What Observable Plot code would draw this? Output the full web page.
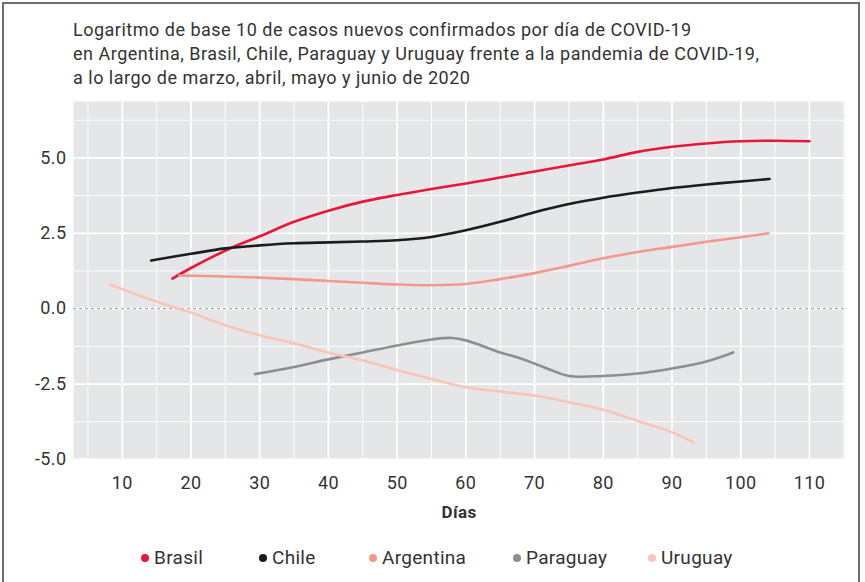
<!DOCTYPE html>
<html><head><meta charset="utf-8">
<script src="https://cdn.jsdelivr.net/npm/d3@7"></script>
<script src="https://cdn.jsdelivr.net/npm/@observablehq/plot@0.6"></script>
<style>
body{margin:0;background:#fff;font-family:Roboto,sans-serif;color:#333;width:865px;height:582px;overflow:hidden;position:relative}
#frame{position:absolute;left:2px;top:2px;width:858px;height:640px;border:2px solid #6e6e6e;box-sizing:border-box}
#title{position:absolute;left:73px;top:18px;font-size:18px;letter-spacing:0.5px;line-height:24px;color:#333}
#chart{position:absolute;left:0;top:95px}
#legend{position:absolute;left:0;top:546px;width:865px;height:26px;font-size:19px;color:#333;letter-spacing:0.3px}
#legend .it{position:absolute;display:flex;align-items:center}
#legend .dot{width:8px;height:8px;border-radius:50%;margin-right:5px}
</style></head>
<body>
<div id="frame"></div>
<div id="title">Logaritmo de base 10 de casos nuevos confirmados por día de COVID-19<br>en Argentina, Brasil, Chile, Paraguay y Uruguay frente a la pandemia de COVID-19,<br>a lo largo de marzo, abril, mayo y junio de 2020</div>
<div id="chart"></div>
<div id="legend"></div>
<script>
const countries = ["Brasil", "Chile", "Argentina", "Paraguay", "Uruguay"];
const colors = ["#e8173a", "#1c1c1c", "#f4978c", "#8e8e8e", "#f9c5b6"];

const brasil = [[17.3,1.0],[20,1.35],[26,2.03],[30,2.4],[35,2.88],[40,3.25],[45,3.55],[50,3.77],[55,3.97],[60,4.15],[65,4.35],[70,4.55],[75,4.75],[80,4.95],[85,5.2],[90,5.37],[95,5.48],[100,5.55],[105,5.57],[110,5.55]];
const chile = [[14.2,1.6],[20,1.82],[25,2.0],[30,2.1],[35,2.17],[40,2.2],[45,2.23],[50,2.27],[55,2.38],[60,2.6],[65,2.88],[70,3.2],[75,3.47],[80,3.68],[85,3.85],[90,4.0],[95,4.12],[100,4.22],[104.2,4.3]];
const argentina = [[18.3,1.1],[25,1.07],[30,1.03],[35,0.98],[40,0.92],[45,0.86],[50,0.8],[55,0.78],[60,0.82],[65,0.98],[70,1.18],[75,1.42],[80,1.67],[85,1.88],[90,2.05],[95,2.22],[100,2.37],[104,2.5]];
const paraguay = [[29.3,-2.17],[35,-1.93],[40,-1.68],[45,-1.45],[50,-1.22],[55,-1.02],[58,-0.97],[60,-1.05],[65,-1.45],[68,-1.65],[72,-2.0],[75,-2.23],[80,-2.23],[85,-2.15],[90,-1.98],[95,-1.75],[98.9,-1.45]];
const uruguay = [[8.2,0.8],[10,0.65],[15,0.23],[20,-0.13],[25,-0.55],[30,-0.88],[35,-1.15],[40,-1.45],[45,-1.72],[50,-2.03],[55,-2.33],[60,-2.6],[65,-2.75],[70,-2.88],[75,-3.1],[80,-3.35],[85,-3.72],[90,-4.1],[93.1,-4.43]];

const xTicks = [10,20,30,40,50,60,70,80,90,100,110];
const xMinor = [5,15,25,35,45,55,65,75,85,95,105,115];
const yTicks = [-5,-2.5,0,2.5,5];
const yMinor = [-3.75,-1.25,1.25,3.75,6.25];
const xLabel = "Días";
const legendLeft = [141, 259, 369, 513, 648];

const series = [brasil, chile, argentina, paraguay, uruguay];
const data = series.flatMap((s, i) => s.map(([d, v]) => ({country: countries[i], day: d, value: v})));

const chart = Plot.plot({
  width: 865, height: 434,
  marginLeft: 73, marginRight: 21, marginTop: 6, marginBottom: 70,
  style: {fontFamily: "Roboto, sans-serif", fontSize: "18px", color: "#333", background: "transparent", letterSpacing: "0.4px"},
  x: {domain: [2.9, 115.1]},
  y: {domain: [-5, 6.87]},
  color: {domain: countries, range: colors},
  marks: [
    Plot.frame({fill: "#e5e6e8", stroke: null}),
    Plot.ruleX(xMinor, {stroke: "#fff", strokeWidth: 0.9}),
    Plot.ruleY(yMinor, {stroke: "#fff", strokeWidth: 0.9}),
    Plot.ruleX(xTicks, {stroke: "#fff", strokeWidth: 1.8}),
    Plot.ruleY(yTicks, {stroke: "#fff", strokeWidth: 1.8}),
    Plot.ruleY([0], {stroke: "#9a9a9a", strokeWidth: 1, strokeDasharray: "3,3"}),
    Plot.axisX({ticks: xTicks, tickSize: 0, tickPadding: 17, label: null, fontSize: 18}),
    Plot.axisY({ticks: yTicks, tickSize: 0, tickPadding: 7, label: null, fontSize: 18, tickFormat: d => d.toFixed(1)}),
    Plot.text([xLabel], {frameAnchor: "bottom", dy: 58, fontWeight: "bold", fontSize: 17, fill: "#333"}),
    Plot.line(data, {x: "day", y: "value", z: "country", stroke: "country", strokeWidth: 2.6, curve: "catmull-rom"})
  ]
});
document.getElementById("chart").appendChild(chart);

const leg = document.getElementById("legend");
countries.forEach((c, i) => {
  const it = document.createElement("div");
  it.className = "it";
  it.style.left = legendLeft[i] + "px";
  it.innerHTML = `<span class="dot" style="background:${colors[i]}"></span><span>${c}</span>`;
  leg.appendChild(it);
});
</script>
</body></html>
